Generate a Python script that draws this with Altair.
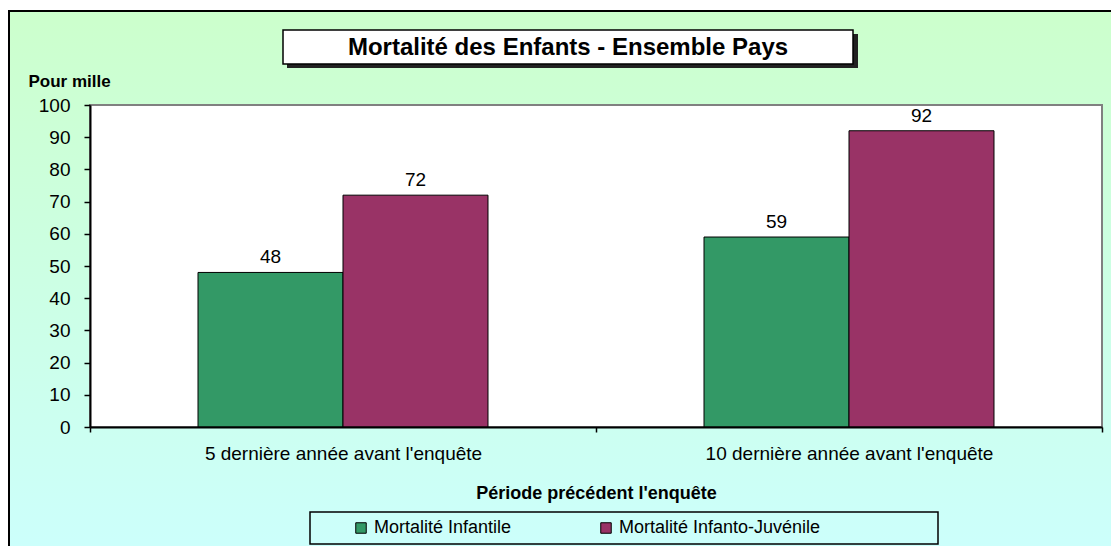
import altair as alt
import pandas as pd

periods = ["5 dernière année avant l'enquête", "10 dernière année avant l'enquête"]
series = ["Mortalité Infantile", "Mortalité Infanto-Juvénile"]
colors = ["#339966", "#993366"]
values_infantile = [48, 59]
values_juvenile = [72, 92]
y_ticks = list(range(0, 101, 10))
chart_title = "Mortalité des Enfants - Ensemble Pays"
y_title = "Pour mille"
x_title = "Période précédent l'enquête"

rows = []
for i, p in enumerate(periods):
    rows.append({"periode": p, "serie": series[0], "valeur": values_infantile[i]})
    rows.append({"periode": p, "serie": series[1], "valeur": values_juvenile[i]})
df = pd.DataFrame(rows)
one = pd.DataFrame({"k": [0]})

W, H = 1012, 322
FONT = "Liberation Sans"

# decorations
bg = alt.Chart(one).mark_rect(
    fill=alt.Gradient(
        gradient="linear",
        stops=[alt.GradientStop(color="#CCFFCC", offset=0),
               alt.GradientStop(color="#CCFFFF", offset=1)],
        x1=0, x2=0, y1=0, y2=1),
    stroke="black", strokeWidth=2,
).encode(x=alt.value(-81), x2=alt.value(1060), y=alt.value(-94), y2=alt.value(480))

plot_bg = alt.Chart(one).mark_rect(fill="white", stroke="#808080", strokeWidth=2).encode(
    x=alt.value(0), x2=alt.value(W), y=alt.value(0), y2=alt.value(H))

title_shadow = alt.Chart(one).mark_rect(fill="#222222").encode(
    x=alt.value(197), x2=alt.value(768), y=alt.value(-71), y2=alt.value(-37))
title_box = alt.Chart(one).mark_rect(fill="white", stroke="black", strokeWidth=1.5).encode(
    x=alt.value(193), x2=alt.value(763), y=alt.value(-75), y2=alt.value(-41))
title_text = alt.Chart(one).mark_text(
    text=chart_title, font=FONT, fontSize=24, fontWeight="bold", align="center",
    baseline="middle", color="black").encode(x=alt.value(478), y=alt.value(-57))

legend_box = alt.Chart(one).mark_rect(fill="transparent", stroke="black", strokeWidth=1.5).encode(
    x=alt.value(220), x2=alt.value(848), y=alt.value(407), y2=alt.value(439))

base = alt.Chart(df).encode(
    x=alt.X("periode:N", sort=periods,
            scale=alt.Scale(paddingInner=0, paddingOuter=0),
            axis=alt.Axis(title=x_title, labelAngle=0, tickBand="extent",
                          titleX=W / 2, titleY=66, titleBaseline="middle",
                          titleFont=FONT, titleFontSize=18, titleFontWeight="bold",
                          titleColor="black",
                          labelFont=FONT, labelFontSize=19, labelColor="black",
                          labelPadding=12, labelLimit=500,
                          domainColor="black", domainWidth=2,
                          tickColor="black", tickSize=5, tickWidth=1.5, zindex=1)),
    xOffset=alt.XOffset("serie:N", sort=series,
                        scale=alt.Scale(paddingInner=0, paddingOuter=0.745)),
    y=alt.Y("valeur:Q", scale=alt.Scale(domain=[0, 100]),
            axis=alt.Axis(values=y_ticks, title=y_title, grid=False,
                          titleAngle=0, titleAlign="left", titleX=-62, titleY=-24,
                          titleBaseline="middle",
                          titleFont=FONT, titleFontSize=17, titleFontWeight="bold",
                          titleColor="black",
                          labelFont=FONT, labelFontSize=19, labelColor="black",
                          labelPadding=14,
                          domainColor="black", domainWidth=2,
                          tickColor="black", tickSize=6, tickWidth=1.5, zindex=1)),
)

bars = base.mark_bar(stroke="black", strokeWidth=1, opacity=1).encode(
    color=alt.Color("serie:N", sort=series,
                    scale=alt.Scale(domain=series, range=colors),
                    legend=alt.Legend(title=None, orient="none", legendX=262, legendY=414,
                                      direction="horizontal", symbolType="square",
                                      symbolSize=110, symbolStrokeColor="black",
                                      symbolStrokeWidth=1, symbolOpacity=1,
                                      labelFont=FONT, labelFontSize=18, labelColor="black",
                                      labelLimit=500, columnPadding=85, padding=0,
                                      labelOffset=4))
)

labels = base.mark_text(font=FONT, fontSize=19, color="black", baseline="alphabetic",
                        dy=-9).encode(text=alt.Text("valeur:Q"))

chart = alt.layer(bg, plot_bg, title_shadow, title_box, title_text, legend_box, bars, labels).properties(
    width=W, height=H,
    autosize=alt.AutoSizeParams(type="none"),
    padding={"left": 82, "top": 97, "right": 9, "bottom": 119},
    background="white",
).configure_view(stroke=None)

chart.save("out.html", embed_options={"renderer": "svg", "actions": False})
